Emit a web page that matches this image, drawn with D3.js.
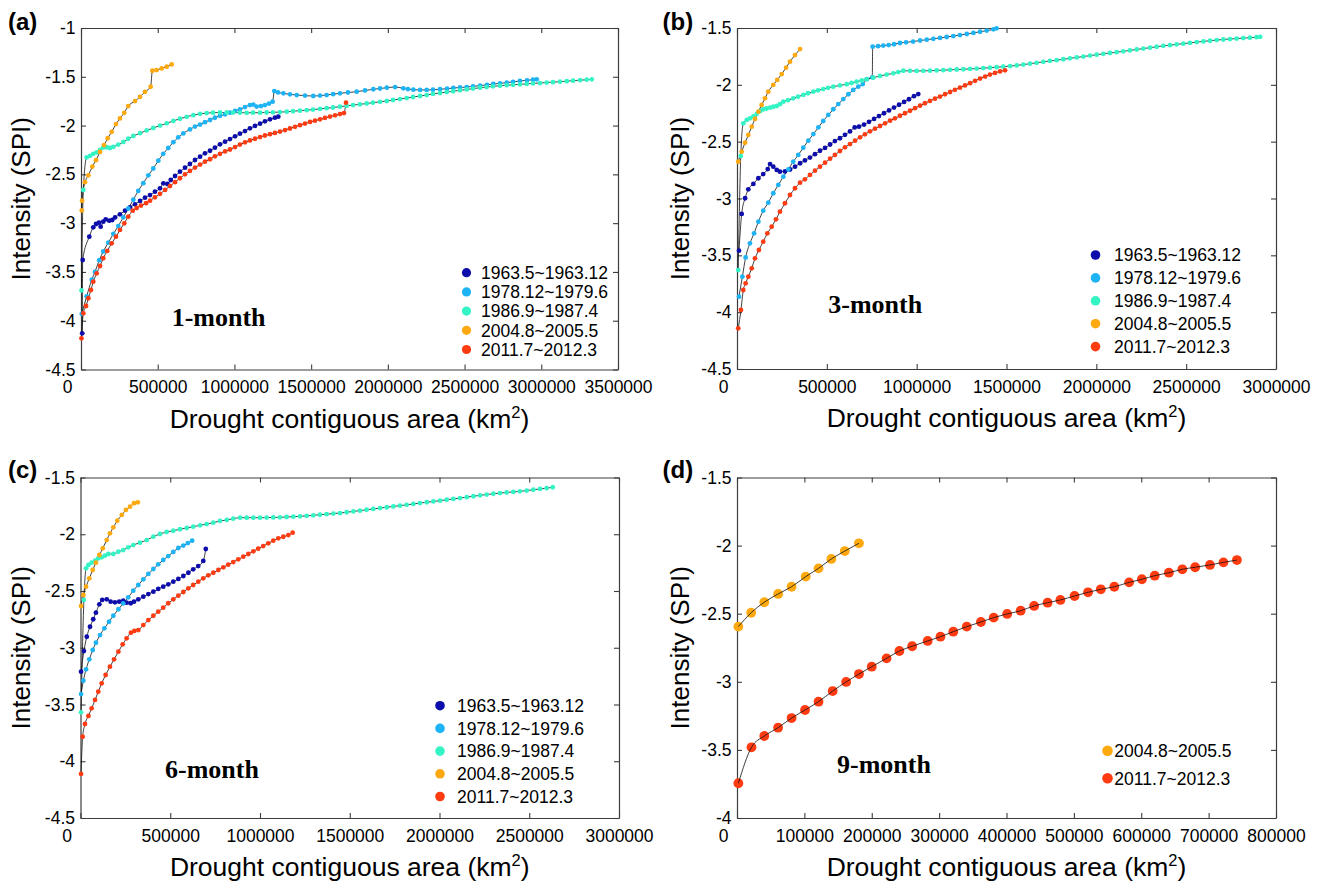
<!DOCTYPE html>
<html>
<head>
<meta charset="utf-8">
<script src="https://cdn.jsdelivr.net/npm/d3@7"></script>
<style>
  body { margin: 0; background: #fff; }
  svg text { font-family: Arial, "Liberation Sans", Helvetica, sans-serif; }
</style>
</head>
<body>
<svg id="chart" width="1327" height="885"></svg>
<script>
// ---------------------------------------------------------------
// Drought events and their colours
// ---------------------------------------------------------------
const events = ["1963.5~1963.12", "1978.12~1979.6", "1986.9~1987.4", "2004.8~2005.5", "2011.7~2012.3"];
const eventColors = ["#0d0dab", "#1db3f4", "#34f4c6", "#fda90f", "#ff3b12"];

// Each point: [drought contiguous area in thousand km², intensity (SPI)]

// ---- 1-month SPI ----
const spi1_1963 = [[8,-4.129],[11,-3.378],[54,-3.139],[80,-3.043],[98,-3.009],[117,-2.995],[128,-3.036],[145,-2.985],[161,-2.961],[184,-2.975],[204,-2.968],[222,-2.941],[254,-2.910],[287,-2.872],[319,-2.838],[352,-2.807],[385,-2.773],[417,-2.739],[450,-2.712],[482,-2.678],[515,-2.643],[537,-2.592],[563,-2.599],[585,-2.558],[613,-2.517],[645,-2.473],[678,-2.432],[710,-2.394],[743,-2.353],[776,-2.319],[808,-2.284],[841,-2.258],[873,-2.227],[906,-2.192],[939,-2.165],[971,-2.138],[1004,-2.110],[1036,-2.083],[1069,-2.056],[1101,-2.028],[1134,-2.004],[1167,-1.981],[1199,-1.956],[1232,-1.936],[1264,-1.919],[1286,-1.909]];
const spi1_1978 = [[5,-3.93],[37,-3.75],[70,-3.58],[91,-3.50],[119,-3.38],[145,-3.29],[178,-3.20],[211,-3.11],[243,-3.03],[276,-2.94],[308,-2.85],[341,-2.76],[373,-2.67],[406,-2.59],[439,-2.51],[471,-2.44],[504,-2.36],[536,-2.29],[569,-2.23],[602,-2.17],[634,-2.12],[667,-2.08],[710,-2.04],[743,-2.01],[776,-1.99],[808,-1.965],[841,-1.943],[873,-1.92],[906,-1.90],[939,-1.885],[971,-1.868],[1004,-1.85],[1036,-1.833],[1069,-1.81],[1101,-1.79],[1123,-1.785],[1145,-1.805],[1173,-1.80],[1199,-1.79],[1225,-1.775],[1249,-1.755],[1260,-1.646],[1284,-1.66],[1319,-1.67],[1362,-1.68],[1406,-1.687],[1460,-1.693],[1514,-1.697],[1558,-1.693],[1601,-1.687],[1643,-1.678],[1688,-1.669],[1740,-1.661],[1797,-1.653],[1851,-1.64],[1905,-1.628],[1949,-1.62],[1993,-1.612],[2047,-1.605],[2101,-1.618],[2131,-1.626],[2166,-1.632],[2210,-1.635],[2253,-1.635],[2294,-1.632],[2340,-1.628],[2386,-1.622],[2427,-1.615],[2470,-1.61],[2514,-1.605],[2555,-1.598],[2601,-1.591],[2646,-1.582],[2687,-1.574],[2731,-1.567],[2775,-1.561],[2816,-1.552],[2861,-1.543],[2907,-1.536],[2946,-1.53],[2970,-1.526]];
const spi1_1986 = [[3,-3.69],[15,-2.66],[37,-2.325],[59,-2.31],[80,-2.29],[102,-2.275],[124,-2.25],[145,-2.225],[168,-2.222],[189,-2.23],[211,-2.218],[243,-2.195],[276,-2.168],[308,-2.135],[341,-2.107],[385,-2.078],[428,-2.05],[471,-2.025],[515,-2.0],[559,-1.977],[602,-1.952],[645,-1.93],[689,-1.91],[732,-1.893],[776,-1.88],[819,-1.872],[860,-1.868],[906,-1.866],[950,-1.866],[991,-1.867],[1036,-1.868],[1080,-1.869],[1121,-1.868],[1167,-1.868],[1210,-1.866],[1251,-1.864],[1297,-1.862],[1341,-1.858],[1382,-1.853],[1427,-1.847],[1471,-1.842],[1512,-1.836],[1558,-1.829],[1601,-1.822],[1643,-1.815],[1688,-1.806],[1732,-1.798],[1773,-1.79],[1818,-1.782],[1862,-1.774],[1903,-1.765],[1949,-1.757],[1993,-1.748],[2034,-1.738],[2079,-1.728],[2123,-1.718],[2164,-1.707],[2210,-1.697],[2253,-1.687],[2294,-1.676],[2340,-1.666],[2384,-1.657],[2425,-1.648],[2470,-1.639],[2514,-1.63],[2555,-1.621],[2601,-1.612],[2644,-1.605],[2685,-1.598],[2731,-1.591],[2775,-1.586],[2816,-1.582],[2861,-1.577],[2905,-1.573],[2946,-1.568],[2992,-1.564],[3035,-1.559],[3076,-1.555],[3122,-1.55],[3166,-1.545],[3207,-1.54],[3253,-1.535],[3296,-1.53],[3329,-1.526]];
const spi1_2004 = [[5,-2.87],[7,-2.77],[26,-2.58],[48,-2.51],[74,-2.42],[98,-2.355],[124,-2.27],[150,-2.20],[174,-2.13],[200,-2.064],[228,-1.985],[254,-1.927],[282,-1.869],[308,-1.80],[352,-1.749],[385,-1.705],[417,-1.654],[454,-1.602],[465,-1.438],[493,-1.431],[526,-1.414],[559,-1.397],[591,-1.373]];
const spi1_2011 = [[3,-4.18],[15,-3.924],[33,-3.849],[48,-3.77],[65,-3.685],[80,-3.60],[102,-3.514],[124,-3.439],[145,-3.36],[171,-3.285],[200,-3.207],[228,-3.139],[254,-3.07],[282,-3.002],[308,-2.934],[337,-2.872],[363,-2.845],[391,-2.82],[424,-2.795],[450,-2.77],[482,-2.735],[515,-2.70],[548,-2.66],[580,-2.62],[613,-2.58],[645,-2.54],[678,-2.50],[710,-2.465],[743,-2.43],[776,-2.40],[808,-2.37],[841,-2.345],[873,-2.315],[906,-2.29],[939,-2.265],[971,-2.245],[1004,-2.22],[1036,-2.195],[1069,-2.172],[1101,-2.152],[1134,-2.135],[1167,-2.118],[1199,-2.102],[1232,-2.088],[1264,-2.075],[1297,-2.062],[1330,-2.046],[1362,-2.03],[1395,-2.013],[1427,-1.996],[1460,-1.98],[1493,-1.963],[1525,-1.95],[1558,-1.936],[1590,-1.922],[1623,-1.908],[1656,-1.895],[1688,-1.882],[1714,-1.872],[1727,-1.765]];

// ---- 3-month SPI ----
const spi3_1963 = [[11,-3.459],[26,-3.136],[45,-2.998],[63,-2.919],[91,-2.872],[119,-2.822],[146,-2.785],[171,-2.741],[184,-2.697],[202,-2.72],[221,-2.749],[239,-2.764],[267,-2.762],[295,-2.745],[323,-2.72],[351,-2.69],[378,-2.665],[406,-2.64],[434,-2.61],[462,-2.58],[490,-2.555],[518,-2.525],[545,-2.495],[573,-2.47],[601,-2.44],[629,-2.41],[655,-2.375],[679,-2.368],[707,-2.35],[735,-2.325],[763,-2.30],[790,-2.275],[818,-2.25],[846,-2.225],[874,-2.20],[902,-2.175],[930,-2.15],[957,-2.127],[985,-2.10],[1009,-2.081]];
const spi3_1978 = [[11,-3.864],[30,-3.688],[48,-3.518],[72,-3.394],[95,-3.306],[119,-3.204],[146,-3.107],[174,-3.037],[202,-2.954],[230,-2.881],[258,-2.808],[286,-2.743],[313,-2.676],[341,-2.617],[369,-2.553],[397,-2.491],[425,-2.433],[453,-2.374],[480,-2.318],[508,-2.265],[536,-2.215],[564,-2.169],[592,-2.125],[620,-2.083],[647,-2.045],[675,-2.016],[700,-1.993],[722,-1.95],[753,-1.934],[755,-1.664],[785,-1.66],[814,-1.655],[844,-1.65],[874,-1.643],[907,-1.632],[941,-1.626],[980,-1.619],[1019,-1.61],[1056,-1.603],[1093,-1.595],[1130,-1.587],[1167,-1.579],[1204,-1.571],[1241,-1.562],[1279,-1.553],[1316,-1.543],[1353,-1.533],[1390,-1.523],[1427,-1.512],[1445,-1.503]];
const spi3_1986 = [[7,-3.63],[21,-2.626],[35,-2.339],[54,-2.309],[72,-2.295],[91,-2.278],[110,-2.255],[128,-2.232],[146,-2.215],[165,-2.208],[184,-2.2],[202,-2.193],[221,-2.186],[239,-2.17],[258,-2.148],[284,-2.135],[313,-2.119],[340,-2.104],[369,-2.089],[395,-2.074],[425,-2.06],[451,-2.048],[480,-2.037],[507,-2.026],[536,-2.016],[573,-2.005],[611,-1.995],[638,-1.984],[666,-1.972],[694,-1.962],[722,-1.951],[759,-1.937],[796,-1.922],[833,-1.91],[870,-1.899],[898,-1.888],[926,-1.876],[963,-1.877],[1000,-1.878],[1037,-1.877],[1074,-1.875],[1111,-1.873],[1148,-1.871],[1186,-1.868],[1223,-1.865],[1260,-1.863],[1297,-1.86],[1334,-1.857],[1371,-1.853],[1408,-1.849],[1445,-1.845],[1482,-1.84],[1520,-1.835],[1557,-1.829],[1594,-1.822],[1631,-1.814],[1668,-1.806],[1705,-1.798],[1742,-1.79],[1779,-1.783],[1816,-1.775],[1853,-1.767],[1891,-1.759],[1928,-1.751],[1965,-1.743],[2002,-1.735],[2039,-1.727],[2076,-1.72],[2113,-1.713],[2150,-1.705],[2187,-1.697],[2225,-1.689],[2262,-1.681],[2299,-1.673],[2336,-1.665],[2373,-1.657],[2410,-1.651],[2447,-1.644],[2484,-1.638],[2521,-1.631],[2559,-1.624],[2596,-1.618],[2633,-1.612],[2670,-1.606],[2707,-1.601],[2744,-1.597],[2781,-1.593],[2818,-1.589],[2855,-1.585],[2892,-1.581],[2912,-1.578]];
const spi3_2004 = [[7,-2.676],[26,-2.588],[45,-2.509],[63,-2.441],[82,-2.368],[100,-2.30],[119,-2.236],[137,-2.177],[156,-2.119],[174,-2.06],[202,-2.001],[224,-1.957],[249,-1.905],[273,-1.849],[295,-1.796],[323,-1.738],[351,-1.685]];
const spi3_2011 = [[7,-4.142],[22,-3.981],[35,-3.805],[48,-3.746],[63,-3.688],[82,-3.614],[100,-3.526],[122,-3.453],[146,-3.38],[169,-3.306],[193,-3.248],[217,-3.183],[239,-3.116],[267,-3.042],[295,-2.969],[323,-2.91],[351,-2.861],[378,-2.831],[406,-2.793],[434,-2.755],[462,-2.72],[490,-2.685],[518,-2.65],[545,-2.617],[573,-2.582],[601,-2.55],[629,-2.521],[657,-2.491],[685,-2.462],[712,-2.435],[740,-2.409],[768,-2.386],[796,-2.362],[824,-2.339],[852,-2.315],[879,-2.295],[907,-2.272],[935,-2.25],[963,-2.228],[991,-2.205],[1019,-2.183],[1046,-2.162],[1074,-2.142],[1102,-2.122],[1130,-2.103],[1158,-2.083],[1186,-2.063],[1213,-2.044],[1241,-2.025],[1269,-2.005],[1297,-1.985],[1325,-1.965],[1353,-1.945],[1381,-1.927],[1408,-1.91],[1436,-1.895],[1464,-1.882],[1492,-1.872]];

// ---- 6-month SPI ----
const spi6_1963 = [[3,-3.211],[19,-3.029],[35,-2.903],[53,-2.815],[71,-2.749],[86,-2.691],[105,-2.617],[121,-2.579],[146,-2.573],[168,-2.594],[192,-2.6],[216,-2.594],[238,-2.585],[257,-2.603],[280,-2.608],[298,-2.594],[322,-2.573],[350,-2.55],[378,-2.527],[406,-2.506],[433,-2.482],[461,-2.462],[489,-2.441],[517,-2.418],[545,-2.394],[573,-2.368],[601,-2.339],[628,-2.309],[656,-2.28],[684,-2.235],[698,-2.13]];
const spi6_1978 = [[3,-3.408],[16,-3.29],[31,-3.19],[49,-3.102],[68,-3.02],[86,-2.956],[109,-2.888],[133,-2.829],[159,-2.771],[183,-2.718],[211,-2.661],[238,-2.609],[266,-2.556],[294,-2.497],[322,-2.447],[350,-2.397],[378,-2.35],[406,-2.306],[433,-2.265],[461,-2.227],[489,-2.192],[517,-2.156],[545,-2.121],[573,-2.10],[598,-2.078],[622,-2.057]];
const spi6_1986 = [[3,-3.569],[19,-2.579],[31,-2.30],[44,-2.271],[62,-2.25],[81,-2.233],[99,-2.212],[118,-2.203],[136,-2.189],[155,-2.174],[183,-2.174],[211,-2.154],[238,-2.139],[266,-2.115],[294,-2.095],[331,-2.074],[369,-2.051],[406,-2.021],[443,-1.998],[480,-1.98],[517,-1.969],[554,-1.956],[592,-1.945],[628,-1.933],[666,-1.921],[703,-1.91],[740,-1.898],[777,-1.883],[815,-1.874],[851,-1.863],[889,-1.854],[926,-1.854],[963,-1.854],[1000,-1.854],[1037,-1.853],[1074,-1.852],[1111,-1.851],[1148,-1.848],[1186,-1.845],[1223,-1.842],[1260,-1.838],[1297,-1.833],[1334,-1.828],[1371,-1.823],[1409,-1.818],[1446,-1.813],[1483,-1.806],[1520,-1.799],[1557,-1.792],[1594,-1.784],[1631,-1.777],[1669,-1.769],[1706,-1.762],[1743,-1.755],[1780,-1.748],[1817,-1.741],[1854,-1.733],[1891,-1.725],[1929,-1.718],[1966,-1.711],[2003,-1.704],[2040,-1.696],[2077,-1.689],[2114,-1.681],[2152,-1.673],[2189,-1.665],[2226,-1.657],[2263,-1.65],[2300,-1.643],[2337,-1.637],[2374,-1.632],[2411,-1.627],[2448,-1.622],[2486,-1.615],[2523,-1.608],[2560,-1.601],[2597,-1.594],[2631,-1.586]];
const spi6_2004 = [[3,-2.632],[16,-2.535],[31,-2.462],[49,-2.388],[68,-2.315],[86,-2.25],[105,-2.183],[124,-2.124],[146,-2.051],[164,-1.992],[183,-1.939],[205,-1.881],[230,-1.83],[253,-1.786],[276,-1.757],[298,-1.727],[319,-1.719]];
const spi6_2011 = [[3,-4.112],[12,-3.784],[25,-3.672],[44,-3.601],[62,-3.534],[81,-3.46],[99,-3.387],[118,-3.313],[140,-3.24],[164,-3.167],[187,-3.102],[211,-3.035],[235,-2.97],[257,-2.917],[281,-2.867],[300,-2.852],[322,-2.844],[350,-2.80],[378,-2.756],[406,-2.718],[433,-2.682],[461,-2.647],[489,-2.608],[517,-2.573],[545,-2.541],[573,-2.509],[601,-2.476],[628,-2.447],[656,-2.418],[684,-2.388],[712,-2.362],[740,-2.339],[768,-2.315],[796,-2.291],[823,-2.268],[851,-2.245],[879,-2.221],[907,-2.198],[935,-2.174],[963,-2.15],[990,-2.127],[1018,-2.104],[1046,-2.08],[1074,-2.057],[1102,-2.036],[1130,-2.022],[1158,-2.007],[1182,-1.986]];

// ---- 9-month SPI ----
const spi9_2004 = [[2,-2.595],[21,-2.493],[40.5,-2.416],[61,-2.355],[81,-2.302],[102,-2.228],[121,-2.167],[140,-2.098],[160,-2.04],[181,-1.983]];
const spi9_2011 = [[2,-3.745],[21.5,-3.481],[40.5,-3.398],[61,-3.337],[81,-3.266],[101,-3.207],[121,-3.146],[142,-3.068],[162,-3.001],[181,-2.943],[200,-2.889],[222,-2.828],[241,-2.774],[260,-2.739],[283,-2.70],[302,-2.669],[321,-2.632],[341,-2.595],[362,-2.561],[381,-2.529],[401,-2.502],[421,-2.478],[441,-2.443],[461,-2.419],[480,-2.399],[501,-2.37],[521,-2.343],[540,-2.321],[560,-2.302],[582,-2.27],[601,-2.247],[620,-2.221],[641,-2.199],[661,-2.174],[680,-2.159],[702,-2.142],[722,-2.123],[742,-2.106]];

// ---- Axis ticks ----
const xTicks1 = [0, 500000, 1000000, 1500000, 2000000, 2500000, 3000000, 3500000];
const xTicks3 = [0, 500000, 1000000, 1500000, 2000000, 2500000, 3000000];
const xTicks6 = [0, 500000, 1000000, 1500000, 2000000, 2500000, 3000000];
const xTicks9 = [0, 100000, 200000, 300000, 400000, 500000, 600000, 700000, 800000];
const yTicks1 = [-1, -1.5, -2, -2.5, -3, -3.5, -4, -4.5];
const yTicks3 = [-1.5, -2, -2.5, -3, -3.5, -4, -4.5];
const yTicks6 = [-1.5, -2, -2.5, -3, -3.5, -4, -4.5];
const yTicks9 = [-1.5, -2, -2.5, -3, -3.5, -4];

// ---------------------------------------------------------------
// Panel layout
// ---------------------------------------------------------------
const panels = [
  { tag: "(a)", tagPos: [8, 30], title: "1-month", titlePos: [171.7, 326],
    box: [81, 28, 618, 369.5], xTicks: xTicks1, yTicks: yTicks1, yTitleX: 21,
    series: [[0, spi1_1963], [1, spi1_1978], [2, spi1_1986], [3, spi1_2004], [4, spi1_2011]],
    legend: { ids: [0, 1, 2, 3, 4], cx: 466.5, tx: 481, y0: 272.7, dy: 19.2, r: 4.6 },
    dotR: 2.4, lineOnTop: false },
  { tag: "(b)", tagPos: [662.5, 30], title: "3-month", titlePos: [828.3, 313],
    box: [737, 28, 1276, 369], xTicks: xTicks3, yTicks: yTicks3, yTitleX: 680,
    series: [[0, spi3_1963], [1, spi3_1978], [2, spi3_1986], [3, spi3_2004], [4, spi3_2011]],
    legend: { ids: [0, 1, 2, 3, 4], cx: 1095.5, tx: 1114, y0: 255, dy: 22.9, r: 4.8 },
    dotR: 2.4, lineOnTop: false },
  { tag: "(c)", tagPos: [8, 478], title: "6-month", titlePos: [165, 778],
    box: [80.5, 477.5, 619, 818], xTicks: xTicks6, yTicks: yTicks6, yTitleX: 21,
    series: [[0, spi6_1963], [1, spi6_1978], [2, spi6_1986], [3, spi6_2004], [4, spi6_2011]],
    legend: { ids: [0, 1, 2, 3, 4], cx: 440, tx: 457, y0: 705.7, dy: 22.7, r: 4.8 },
    dotR: 2.4, lineOnTop: false },
  { tag: "(d)", tagPos: [662.5, 478], title: "9-month", titlePos: [837, 773],
    box: [737, 477.5, 1276, 818], xTicks: xTicks9, yTicks: yTicks9, yTitleX: 680,
    series: [[3, spi9_2004], [4, spi9_2011]],
    legend: { ids: [3, 4], cx: 1107.5, tx: 1114.3, y0: 750.7, dy: 27.6, r: 5.3 },
    dotR: 4.9, lineOnTop: true }
];

const svg = d3.select("#chart");
const frameColor = "#3c3c3c";
const fmtX = d3.format("d");
const fmtY = d => String(d);

function styleAxis(sel) {
  sel.select(".domain").attr("stroke", frameColor).attr("stroke-width", 1.2);
  sel.selectAll(".tick line").attr("stroke", frameColor).attr("stroke-width", 1.1);
  sel.selectAll(".tick text").attr("fill", "#000").style("font-size", "17.5px")
     .style("font-family", "Arial, 'Liberation Sans', sans-serif");
}

panels.forEach(p => {
  const [x0, y0, x1, y1] = p.box;
  const xMax = p.xTicks[p.xTicks.length - 1];
  const x = d3.scaleLinear().domain([0, xMax]).range([x0, x1]);
  const y = d3.scaleLinear()
    .domain([p.yTicks[p.yTicks.length - 1], p.yTicks[0]])
    .range([y1, y0]);
  const g = svg.append("g");

  // Axes with inward ticks on all four sides
  const gB = g.append("g").attr("transform", `translate(0,${y1})`)
    .call(d3.axisBottom(x).tickValues(p.xTicks).tickSize(-5).tickSizeOuter(0)
      .tickPadding(11.5).tickFormat(fmtX));
  styleAxis(gB);
  // the "0" label sits left of the origin
  gB.selectAll(".tick text").filter(d => d === 0).attr("dx", -14);

  const gT = g.append("g").attr("transform", `translate(0,${y0})`)
    .call(d3.axisTop(x).tickValues(p.xTicks).tickSize(-5).tickSizeOuter(0).tickFormat(""));
  styleAxis(gT);

  const gL = g.append("g").attr("transform", `translate(${x0},0)`)
    .call(d3.axisLeft(y).tickValues(p.yTicks).tickSize(-5).tickSizeOuter(0)
      .tickPadding(5.5).tickFormat(fmtY));
  styleAxis(gL);

  const gR = g.append("g").attr("transform", `translate(${x1},0)`)
    .call(d3.axisRight(y).tickValues(p.yTicks).tickSize(-5).tickSizeOuter(0).tickFormat(""));
  styleAxis(gR);

  // Series: coloured markers joined by a thin black line
  const line = d3.line()
    .x(d => x(d[0] * 1000))
    .y(d => y(d[1]))
    .curve(d3.curveMonotoneX);

  const drawLines = () => p.series.forEach(([id, data]) => {
    g.append("path").datum(data)
      .attr("d", line)
      .attr("fill", "none")
      .attr("stroke", "#111")
      .attr("stroke-opacity", 0.9)
      .attr("stroke-width", 0.9);
  });
  const drawDots = () => p.series.forEach(([id, data]) => {
    g.append("g").selectAll("circle").data(data).join("circle")
      .attr("cx", d => x(d[0] * 1000))
      .attr("cy", d => y(d[1]))
      .attr("r", p.dotR)
      .attr("fill", eventColors[id]);
  });
  if (p.lineOnTop) { drawDots(); drawLines(); } else { drawLines(); drawDots(); }

  // Legend
  p.legend.ids.forEach((id, i) => {
    const ly = p.legend.y0 + i * p.legend.dy;
    g.append("circle").attr("cx", p.legend.cx).attr("cy", ly)
      .attr("r", p.legend.r).attr("fill", eventColors[id]);
    g.append("text").attr("x", p.legend.tx).attr("y", ly).attr("dy", "0.36em")
      .style("font-size", "17.5px").attr("fill", "#000").text(events[id]);
  });

  // Panel tag and SPI time-scale label
  g.append("text").attr("x", p.tagPos[0]).attr("y", p.tagPos[1])
    .style("font-size", "24px").style("font-weight", "bold").text(p.tag);
  g.append("text").attr("x", p.titlePos[0]).attr("y", p.titlePos[1])
    .style("font-family", "'Times New Roman', 'Liberation Serif', serif")
    .style("font-size", "26px").style("font-weight", "bold").text(p.title);

  // Axis titles
  g.append("text")
    .attr("transform", `translate(${p.yTitleX},${(y0 + y1) / 2}) rotate(-90)`)
    .attr("text-anchor", "middle").attr("dy", "0.36em")
    .style("font-size", "26px").text("Intensity (SPI)");

  const xt = g.append("text").attr("x", (x0 + x1) / 2).attr("y", y1 + 58)
    .attr("text-anchor", "middle").style("font-size", "26.5px");
  xt.append("tspan").text("Drought contiguous area (km");
  xt.append("tspan").attr("dy", -10).style("font-size", "16.5px").text("2");
  xt.append("tspan").attr("dy", 10).text(")");
});
</script>
</body>
</html>
